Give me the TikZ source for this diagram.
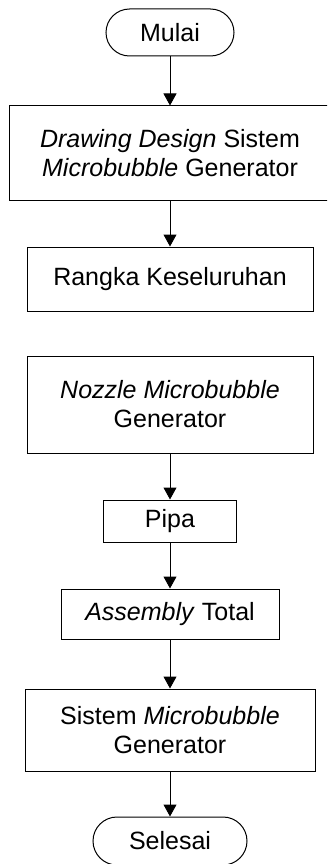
\documentclass[tikz,border=0pt]{standalone}
\usepackage{fontspec}
\setmainfont{Liberation Sans}
\usetikzlibrary{arrows.meta}
\begin{document}
\begin{tikzpicture}[x=1pt,y=-1pt]
\tikzstyle{every node}+=[inner sep=0pt, font=\fontsize{25}{29}\selectfont, align=center]
\tikzstyle{terminal}=[draw, line width=1pt, rounded corners=23.5pt, minimum width=128pt, minimum height=47pt]
\tikzstyle{proses}=[draw, line width=1pt]
\tikzstyle{panah}=[draw, line width=1pt, -{Triangle[width=13pt,length=12pt]}]
\clip (0,0) rectangle (327,864);
\node [terminal] (mulai) at (170,32.5) {Mulai};
\node [proses, minimum width=322pt, minimum height=94pt] (desain) at (170,153) {\textit{Drawing Design} Sistem\\\textit{Microbubble} Generator};
\node [proses, minimum width=286pt, minimum height=64pt] (rangka) at (170,279) {Rangka Keseluruhan};
\node [proses, minimum width=286pt, minimum height=97pt] (nozzle) at (170,404.5) {\textit{Nozzle Microbubble}\\Generator};
\node [proses, minimum width=133pt, minimum height=42pt] (pipa) at (170,521) {Pipa};
\node [proses, minimum width=218pt, minimum height=50pt] (assembly) at (170,614) {\textit{Assembly} Total};
\node [proses, minimum width=290pt, minimum height=82pt] (sistem) at (170,730) {Sistem \textit{Microbubble}\\Generator};
\node [terminal, minimum width=154pt, minimum height=48pt, rounded corners=24pt] (selesai) at (170,841) {Selesai};
\draw [panah] (mulai) -- (desain);
\draw [panah] (desain) -- (rangka);
\draw [panah] (nozzle) -- (pipa);
\draw [panah] (pipa) -- (assembly);
\draw [panah] (assembly) -- (sistem);
\draw [panah] (sistem) -- (selesai);
\end{tikzpicture}
\end{document}
